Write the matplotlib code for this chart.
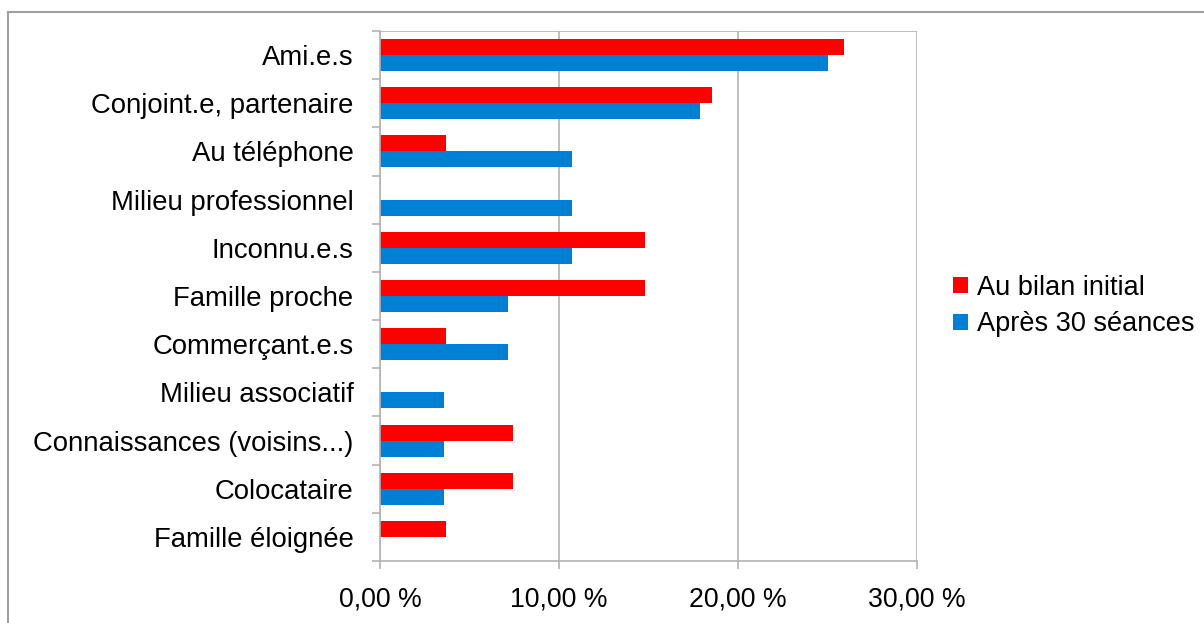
import matplotlib.pyplot as plt
import numpy as np
from matplotlib.lines import Line2D

plt.rcParams['font.family'] = ['Liberation Sans', 'DejaVu Sans']

categories = ['Ami.e.s', 'Conjoint.e, partenaire', 'Au téléphone',
              'Milieu professionnel', 'Inconnu.e.s', 'Famille proche',
              'Commerçant.e.s', 'Milieu associatif',
              'Connaissances (voisins...)', 'Colocataire', 'Famille éloignée']
bilan_initial = [25.93, 18.52, 3.70, 0.0, 14.81, 14.81, 3.70, 0.0, 7.41, 7.41, 3.70]
apres_30 = [25.00, 17.86, 10.71, 10.71, 10.71, 7.14, 7.14, 3.57, 3.57, 3.57, 0.0]
xticks = [0, 10, 20, 30]
xtick_labels = ['0,00 %', '10,00 %', '20,00 %', '30,00 %']
series_names = ['Au bilan initial', 'Après 30 séances']

red = '#ff0000'
blue = '#0080d5'
grey = '#b3b3b3'

fig = plt.figure(figsize=(12.04, 6.23), dpi=100)
ax = fig.add_axes([380/1204, 1-561/623, (917-380)/1204, (561-31)/623])

y = np.arange(len(categories))
h = 0.333
ax.barh(y - h/2, bilan_initial, height=h, color=red, label=series_names[0])
ax.barh(y + h/2, apres_30, height=h, color=blue, label=series_names[1])

ax.set_xlim(0, 30)
ax.set_ylim(len(categories) - 0.5, -0.5)
ax.set_xticks(xticks)
ax.set_xticklabels(xtick_labels, fontsize=19.2)
ax.set_yticks(y)
ax.set_yticklabels(categories, fontsize=19.8)

# tick marks sit on the category boundaries, labels in the middle
ax.set_yticks(np.arange(len(categories) + 1) - 0.5, minor=True)
ax.tick_params(axis='y', which='major', length=0, pad=19)
ax.tick_params(axis='y', which='minor', length=6, color=grey, width=1.2)
ax.tick_params(axis='x', length=6, color=grey, width=1.2, pad=12)

ax.grid(axis='x', color=grey, linewidth=1.2)
ax.set_axisbelow(True)
for s in ['top', 'right']:
    ax.spines[s].set_visible(False)
for s in ['left', 'bottom']:
    ax.spines[s].set_color(grey)
    ax.spines[s].set_linewidth(1.2)
ax.axhline(-0.5, color=grey, linewidth=1.2)

ax.legend(loc='center left', bbox_to_anchor=(953/1204, 1-306/623),
          bbox_transform=fig.transFigure, frameon=False, fontsize=19.5,
          handlelength=0.55, handleheight=0.55, handletextpad=0.35,
          labelspacing=0.4, borderaxespad=0, borderpad=0)

# outer frame (top and left edges)
fig.add_artist(Line2D([8/1204, 1], [1-12/623, 1-12/623], color='#a0a0a0', lw=1.5,
                      transform=fig.transFigure))
fig.add_artist(Line2D([8/1204, 8/1204], [0, 1-12/623], color='#a0a0a0', lw=1.5,
                      transform=fig.transFigure))

fig.savefig('out.png', dpi=100)
